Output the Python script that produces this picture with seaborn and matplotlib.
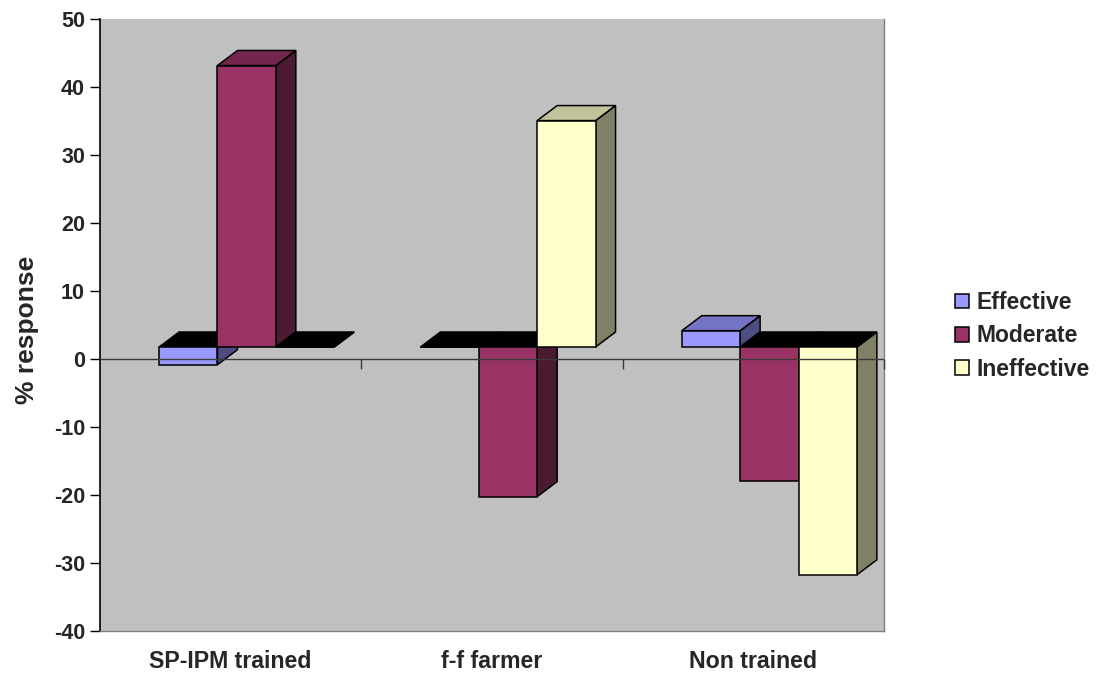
import matplotlib
matplotlib.use("Agg")
import matplotlib.pyplot as plt
from matplotlib.patches import Polygon, Patch
import numpy as np
import pandas as pd
import seaborn as sns

# Survey results: % response per training group
groups = ["SP-IPM trained", "f-f farmer", "Non trained"]
series = ["Effective", "Moderate", "Ineffective"]
effective = [-2.6, 0.0, 2.4]
moderate = [41.4, -22.0, -19.7]
ineffective = [0.0, 33.3, -33.5]

y_ticks = [-40, -30, -20, -10, 0, 10, 20, 30, 40, 50]

front_colors = ["#9999FF", "#993366", "#FFFFCC"]
top_colors = ["#7474C4", "#74264F", "#C2C29B"]
side_colors = ["#4D4D80", "#4C1933", "#808066"]

df = pd.DataFrame({
    "group": np.repeat(groups, len(series)),
    "series": series * len(groups),
    "value": np.column_stack([effective, moderate, ineffective]).ravel(),
})

sns.set_theme(style="white")
plt.rcParams["font.family"] = ["Liberation Sans", "DejaVu Sans"]
plt.rcParams["font.weight"] = "bold"
plt.rcParams["axes.unicode_minus"] = False

fig = plt.figure(figsize=(10.96, 6.77), dpi=100)
ax = fig.add_axes([100 / 1096, 1 - 631 / 677, 784 / 1096, 612 / 677])
ax.set_facecolor("#C0C0C0")

sns.barplot(data=df, x="group", y="value", hue="series",
            order=groups, hue_order=series, palette=front_colors,
            saturation=1, width=0.67, dodge=True, errorbar=None,
            edgecolor="black", linewidth=1.1, legend=False, ax=ax)

ax.set_xlim(-0.5, len(groups) - 0.5)
ax.set_ylim(-40, 50)

# oblique projection: front faces sit a little behind the floor edge,
# each column has a fixed depth going up and to the right
shift_x, shift_y = 0.0612, 1.76
depth_x, depth_y = 0.0765, 2.21

bars = sorted(ax.patches, key=lambda p: p.get_x())
for k, bar in enumerate(bars):
    j = k % len(series)
    bar.set_x(bar.get_x() + shift_x)
    bar.set_y(bar.get_y() + shift_y)
    x0 = bar.get_x()
    w = bar.get_width()
    h = bar.get_height()
    yb = bar.get_y()
    ylo, yhi = min(yb, yb + h), max(yb, yb + h)
    z = 2 + 3 * k
    side = Polygon([(x0 + w, ylo), (x0 + w + depth_x, ylo + depth_y),
                    (x0 + w + depth_x, yhi + depth_y), (x0 + w, yhi)],
                   closed=True, facecolor=side_colors[j], edgecolor="black",
                   linewidth=1.1, zorder=z)
    cap_color = top_colors[j] if h > 0 else "black"
    top = Polygon([(x0, yhi), (x0 + w, yhi), (x0 + w + depth_x, yhi + depth_y),
                   (x0 + depth_x, yhi + depth_y)],
                  closed=True, facecolor=cap_color, edgecolor="black",
                  linewidth=1.1, zorder=z + 1)
    ax.add_patch(side)
    ax.add_patch(top)
    bar.set_zorder(z + 2)

# category axis at zero with tick marks between categories
ax.axhline(0, color="#3A3A3A", linewidth=1.0, zorder=200)
bounds = np.arange(0.5, len(groups), 1.0)
ax.plot(bounds, np.zeros_like(bounds), linestyle="none", marker=3,
        markersize=7.5, markeredgewidth=1.0, color="#3A3A3A", zorder=200,
        clip_on=False)

ax.set_yticks(y_ticks)
ax.set_xticks(range(len(groups)))
ax.set_xticklabels(groups)
ax.tick_params(axis="y", direction="out", length=7.2, width=1.0, color="black",
               pad=3.6, labelsize=15.5, left=True)
ax.tick_params(axis="x", length=0, pad=14, labelsize=16.7)
for lab in ax.get_xticklabels() + ax.get_yticklabels():
    lab.set_fontweight("bold")

ax.set_xlabel("")
ax.set_ylabel("% response", fontsize=19, fontweight="bold")
ax.yaxis.set_label_coords(-0.078, 0.492)

ax.spines["left"].set_color("black")
ax.spines["left"].set_linewidth(1.2)
for s in ["right", "bottom"]:
    ax.spines[s].set_color("#808080")
    ax.spines[s].set_linewidth(1.0)
ax.spines["top"].set_visible(False)

handles = [Patch(facecolor=c, edgecolor="black", linewidth=1.1) for c in front_colors]
fig.legend(handles, series, loc="upper left",
           bbox_to_anchor=(955 / 1096, 1 - 291 / 677),
           frameon=False, borderpad=0, borderaxespad=0,
           handlelength=0.6, handleheight=0.6, handletextpad=0.36,
           labelspacing=0.45, prop={"size": 16.5, "weight": "bold"})

fig.savefig("out.png", dpi=100)
